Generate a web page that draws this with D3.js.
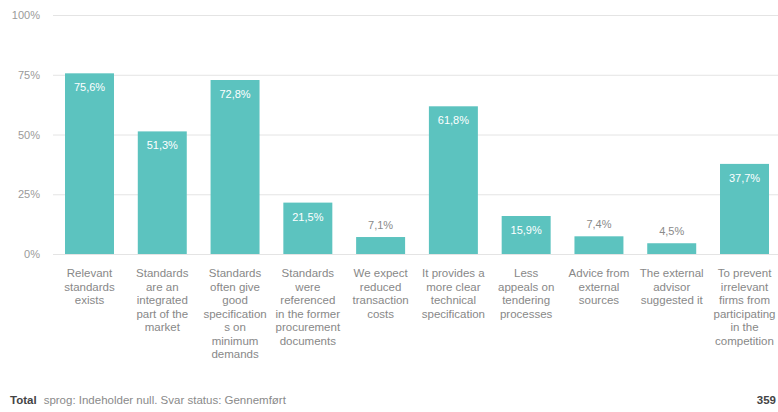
<!DOCTYPE html>
<html>
<head>
<meta charset="utf-8">
<script src="https://cdn.jsdelivr.net/npm/d3@7"></script>
<style>
  body { margin: 0; background: #fff; }
  svg { display: block; font-family: "Liberation Sans", Arial, sans-serif; }
</style>
</head>
<body>
<svg id="chart" width="778" height="412"></svg>
<script>
// values
var categories = [
  ['Relevant', 'standards', 'exists'],
  ['Standards', 'are an', 'integrated', 'part of the', 'market'],
  ['Standards', 'often give', 'good', 'specification', 's on', 'minimum', 'demands'],
  ['Standards', 'were', 'referenced', 'in the former', 'procurement', 'documents'],
  ['We expect', 'reduced', 'transaction', 'costs'],
  ['It provides a', 'more clear', 'technical', 'specification'],
  ['Less', 'appeals on', 'tendering', 'processes'],
  ['Advice from', 'external', 'sources'],
  ['The external', 'advisor', 'suggested it'],
  ['To prevent', 'irrelevant', 'firms from', 'participating', 'in the', 'competition']
];
var values = [75.6, 51.3, 72.8, 21.5, 7.1, 61.8, 15.9, 7.4, 4.5, 37.7];
var yTicks = [0, 25, 50, 75, 100];

var svg = d3.select('#chart');

var x = d3.scaleBand()
  .domain(d3.range(values.length))
  .range([53, 781])
  .paddingInner(0.327)
  .paddingOuter(0.165);

var y = d3.scaleLinear()
  .domain([0, 100])
  .range([254, 15]);

var fmt = function(v) { return d3.format('.1f')(v).replace('.', ',') + '%'; };

// grid + y labels
var yAxis = svg.append('g')
  .attr('transform', 'translate(53,0)')
  .call(d3.axisLeft(y).tickValues(yTicks).tickSize(-725).tickFormat(d => d + '%').tickPadding(13));
yAxis.select('.domain').remove();
yAxis.selectAll('line').attr('stroke', '#e4e4e4');
yAxis.selectAll('text')
  .attr('fill', '#9a9a9a')
  .style('font-size', '11px')
  .style('font-family', '"Liberation Sans", Arial, sans-serif');

// bars
svg.append('g')
  .selectAll('rect')
  .data(values)
  .join('rect')
  .attr('x', (d, i) => x(i))
  .attr('y', d => y(d))
  .attr('width', x.bandwidth())
  .attr('height', d => y(0) - y(d))
  .attr('fill', '#5cc3bf');

// value labels
svg.append('g')
  .selectAll('text')
  .data(values)
  .join('text')
  .attr('x', (d, i) => x(i) + x.bandwidth() / 2)
  .attr('y', d => d > 10 ? y(d) + 18 : y(d) - 8)
  .attr('text-anchor', 'middle')
  .attr('fill', d => d > 10 ? '#ffffff' : '#8a8a8a')
  .style('font-size', '11px')
  .text(fmt);

// category labels
var cat = svg.append('g')
  .selectAll('text')
  .data(categories)
  .join('text')
  .attr('text-anchor', 'middle')
  .attr('fill', '#888888')
  .style('font-size', '11.5px');
cat.each(function(lines, i) {
  d3.select(this).selectAll('tspan')
    .data(lines)
    .join('tspan')
    .attr('x', x(i) + x.bandwidth() / 2)
    .attr('y', (l, j) => 277 + j * 13.5)
    .text(l => l);
});

// footer
var foot = svg.append('text')
  .attr('x', 10)
  .attr('y', 404)
  .style('font-size', '11.5px');
foot.append('tspan').attr('fill', '#444').attr('font-weight', 'bold').text('Total');
foot.append('tspan').attr('fill', '#8a8a8a').attr('dx', 7).text('sprog: Indeholder null. Svar status: Gennemført');

svg.append('text')
  .attr('x', 776)
  .attr('y', 404)
  .attr('text-anchor', 'end')
  .attr('fill', '#444')
  .attr('font-weight', 'bold')
  .style('font-size', '11.5px')
  .text('359');
</script>
</body>
</html>
